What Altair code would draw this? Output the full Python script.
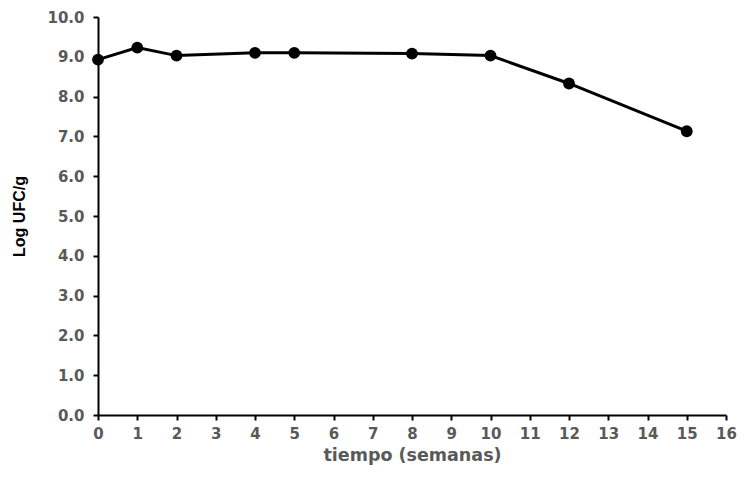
import altair as alt
import pandas as pd

semanas = [0, 1, 2, 4, 5, 8, 10, 12, 15]
log_ufc = [8.93, 9.23, 9.03, 9.1, 9.1, 9.08, 9.03, 8.33, 7.13]

df = pd.DataFrame({"semanas": semanas, "log_ufc": log_ufc})

x = alt.X("semanas:Q", title="tiempo (semanas)",
          scale=alt.Scale(domain=[0, 16], nice=False),
          axis=alt.Axis(values=list(range(0, 17)), format="d", labelFlush=False,
                        labelPadding=6, titlePadding=5, titleColor="#595959",
                        titleFont="DejaVu Sans", titleFontSize=17.5))
y = alt.Y("log_ufc:Q", title="Log UFC/g",
          scale=alt.Scale(domain=[0, 10], nice=False),
          axis=alt.Axis(values=[i for i in range(0, 11)], format=".1f", labelFlush=False,
                        labelPadding=9, titlePadding=19, titleColor="black",
                        titleFont="Liberation Sans", titleFontSize=16))

line = alt.Chart(df).mark_line(color="black", strokeWidth=3).encode(x=x, y=y)
pts = alt.Chart(df).mark_point(filled=True, color="black", size=140, opacity=1, shape="circle").encode(x=x, y=y)

chart = (line + pts).properties(
    width=628, height=398,
    autosize=alt.AutoSizeParams(type="none"),
    padding={"left": 90, "top": 9, "right": 12, "bottom": 55},
).configure_view(stroke=None).configure_axis(
    grid=False,
    domainColor="black", domainWidth=2,
    tickColor="black", tickWidth=2, tickSize=5,
    labelFont="DejaVu Sans", labelFontWeight="bold", labelFontSize=15, labelColor="#595959",
    titleFontWeight="bold",
)

chart.save("out.html", embed_options={"renderer": "svg", "actions": False})
